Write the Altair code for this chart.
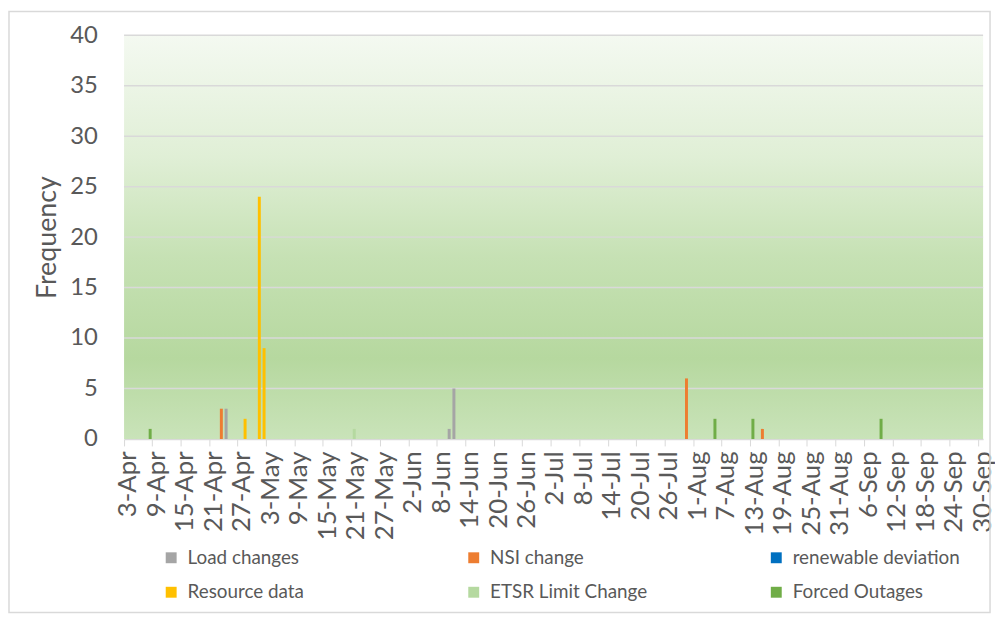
import altair as alt
import pandas as pd

# ---- data -------------------------------------------------------------
series_names = ["Load changes", "NSI change", "renewable deviation",
                "Resource data", "ETSR Limit Change", "Forced Outages"]
series_colors = ["#a5a5a5", "#ed7d31", "#0070c0", "#ffc000", "#b5d9a0", "#70ad47"]
# legend is filled column by column: this order gives the reference's rows
legend_order = ["Load changes", "Resource data", "NSI change",
                "ETSR Limit Change", "renewable deviation", "Forced Outages"]

load_dates = ["24-Apr", "10-Jun", "11-Jun"]
load_vals = [3, 1, 5]
nsi_dates = ["23-Apr", "30-Jul", "15-Aug"]
nsi_vals = [3, 6, 1]
renew_dates = []
renew_vals = []
resource_dates = ["28-Apr", "1-May", "2-May"]
resource_vals = [2, 24, 9]
etsr_dates = ["21-May"]
etsr_vals = [1]
forced_dates = ["8-Apr", "5-Aug", "13-Aug", "9-Sep"]
forced_vals = [1, 2, 2, 2]

tick_labels = ["3-Apr", "9-Apr", "15-Apr", "21-Apr", "27-Apr",
               "3-May", "9-May", "15-May", "21-May", "27-May",
               "2-Jun", "8-Jun", "14-Jun", "20-Jun", "26-Jun",
               "2-Jul", "8-Jul", "14-Jul", "20-Jul", "26-Jul",
               "1-Aug", "7-Aug", "13-Aug", "19-Aug", "25-Aug", "31-Aug",
               "6-Sep", "12-Sep", "18-Sep", "24-Sep", "30-Sep"]
y_ticks = [0, 5, 10, 15, 20, 25, 30, 35, 40]

# every day of the category axis
all_days = [f"{d.day}-{d.strftime('%b')}" for d in
            pd.date_range("2023-04-03", "2023-09-30", freq="D")]

rows = []
for name, ds, vs in [("Load changes", load_dates, load_vals),
                     ("NSI change", nsi_dates, nsi_vals),
                     ("renewable deviation", renew_dates, renew_vals),
                     ("Resource data", resource_dates, resource_vals),
                     ("ETSR Limit Change", etsr_dates, etsr_vals),
                     ("Forced Outages", forced_dates, forced_vals)]:
    for d, v in zip(ds, vs):
        rows.append({"date": d, "series": name, "value": v})
df = pd.DataFrame(rows)
grid_df = pd.DataFrame({"value": y_ticks[1:]})

W, H = 866, 407
TXT = "#595959"
color_map = dict(zip(series_names, series_colors))

xscale = alt.Scale(domain=all_days, paddingInner=0, paddingOuter=0, round=False)
yscale = alt.Scale(domain=[0, 40])
yaxis = alt.Axis(values=y_ticks, title="Frequency", grid=False,
                 domain=False, ticks=False, labelPadding=27,
                 labelFontSize=24, labelColor=TXT,
                 titleFontSize=27, titleFontWeight="normal",
                 titleColor=TXT, titleX=-63, titleY=H / 2)

gradient = alt.Gradient(
    gradient="linear", x1=0, y1=0, x2=0, y2=1,
    stops=[alt.GradientStop(color="#f4f9f1", offset=0),
           alt.GradientStop(color="#e0efd6", offset=0.3),
           alt.GradientStop(color="#c6e1b4", offset=0.55),
           alt.GradientStop(color="#b6d89f", offset=0.8),
           alt.GradientStop(color="#c9e3b9", offset=1)])

background = alt.Chart(pd.DataFrame({"a": [0]})).mark_rect(color=gradient).encode(
    x=alt.value(0), x2=alt.value("width"), y=alt.value(0), y2=alt.value("height"))

border = alt.Chart(pd.DataFrame({"a": [0]})).mark_rect(
    filled=False, stroke="#d9d9d9", strokeWidth=1.5).encode(
    x=alt.value(-116), x2=alt.value(873), y=alt.value(-24), y2=alt.value(582))

grid = alt.Chart(grid_df).mark_rule(color="#d9d9d9", strokeWidth=1.5).encode(
    y=alt.Y("value:Q", scale=yscale, axis=yaxis))

bars = alt.Chart(df).mark_bar(size=3).encode(
    x=alt.X("date:O", scale=xscale, sort=all_days,
            axis=alt.Axis(values=tick_labels, labelAngle=-90, title=None,
                          labelFontSize=26, labelColor=TXT, labelOverlap=False,
                          bandPosition=0, tickSize=7, tickColor="#d9d9d9",
                          domainColor="#d9d9d9", domainWidth=1.5,
                          labelPadding=5, labelOffset=2)),
    y=alt.Y("value:Q", scale=yscale, stack=None, axis=yaxis),
    color=alt.Color("series:N",
                    scale=alt.Scale(domain=legend_order,
                                    range=[color_map[n] for n in legend_order]),
                    legend=alt.Legend(title=None, orient="none", legendX=38,
                                      legendY=517, columns=3, gridAlign="all",
                                      columnPadding=110, rowPadding=15,
                                      symbolType="square", symbolSize=121,
                                      symbolStrokeWidth=0, labelOffset=7,
                                      labelLimit=300,
                                      labelFontSize=19, labelColor=TXT)))

chart = alt.layer(background, border, grid, bars).properties(
    width=W, height=H,
    autosize=alt.AutoSizeParams(type="none"),
    padding={"left": 117, "top": 25, "right": 12, "bottom": 180},
).configure(font="Lato").configure_view(stroke=None)

chart.save("out.html", embed_options={"renderer": "svg", "actions": False})
